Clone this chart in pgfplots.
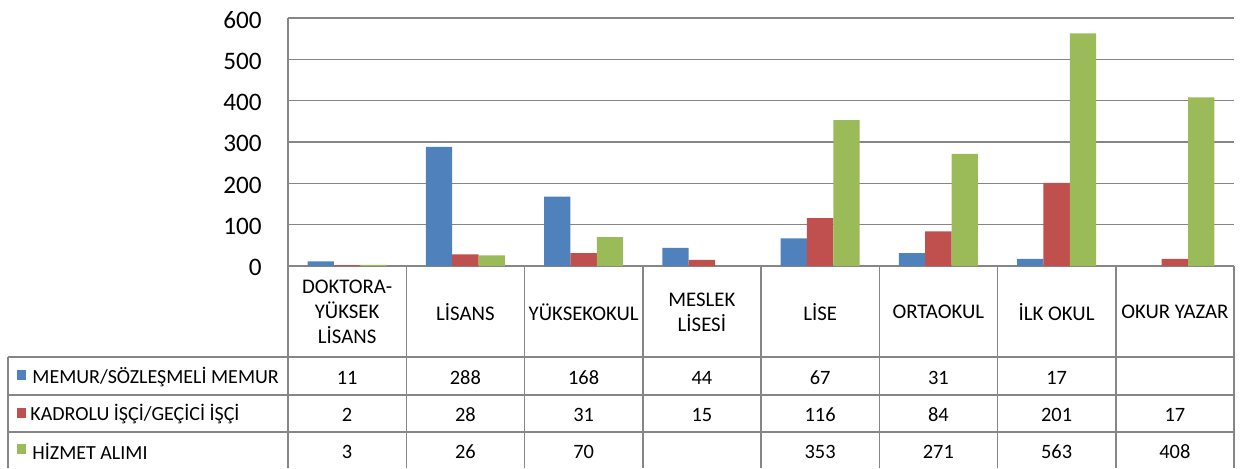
\documentclass[border=0pt]{standalone}
\usepackage{pgfplots}
\pgfplotsset{compat=1.18}
\usepackage{pgfplotstable}
\usepackage{fontspec}
\setmainfont{Carlito}
\definecolor{cblue}{HTML}{4F81BD}
\definecolor{cred}{HTML}{C0504D}
\definecolor{cgreen}{HTML}{9BBB59}
\definecolor{cgrid}{HTML}{868686}

\pgfplotstableread{
x memur kadrolu hizmet
0 11 2 3
1 288 28 26
2 168 31 70
3 44 15 nan
4 67 116 353
5 31 84 271
6 17 201 563
7 nan 17 408
}\datatable

\begin{document}
\begin{tikzpicture}
\useasboundingbox (0,0) rectangle (621pt,234pt);
\begin{axis}[
  at={(144pt,101pt)}, anchor=south west,
  scale only axis, width=473pt, height=124pt,
  xmin=-0.5, xmax=7.5, ymin=0, ymax=600,
  ytick={0,100,...,600}, xtick=\empty,
  ymajorgrids, grid style={cgrid, line width=0.75pt},
  axis x line*=bottom, axis y line*=left,
  axis line style={cgrid, line width=0.75pt},
  major tick length=0pt,
  /pgf/number format/assume math mode=true,
  yticklabel style={font=\fontsize{12.6}{14}\selectfont, inner sep=0pt, xshift=-13pt, yshift=-0.8pt},
  ybar, bar width=0.2225,
  clip=false,
]
\addplot[fill=cblue, draw=none, bar shift=-0.2225] table[x=x,y=memur]{\datatable};
\addplot[fill=cred, draw=none, bar shift=0] table[x=x,y=kadrolu]{\datatable};
\addplot[fill=cgreen, draw=none, bar shift=0.2225] table[x=x,y=hizmet]{\datatable};
\end{axis}
\begin{scope}[shift={(0,234pt)}, x=0.5pt, y=-0.5pt]
  % grid of table
  \foreach \i in {0,...,8} {
    \draw[cgrid, line width=0.75pt] ({288+118.25*\i},266) -- ({288+118.25*\i},468);
  }
  \foreach \yy in {357,395,432} {
    \draw[cgrid, line width=0.75pt] (8,\yy) -- (1234,\yy);
  }
  \draw[cgrid, line width=0.75pt] (8,357) -- (8,468);
  % header labels
  \foreach \lab [count=\i from 0] in {{DOKTORA-\\YÜKSEK\\LİSANS},LİSANS,YÜKSEKOKUL,{MESLEK\\LİSESİ},LİSE,ORTAOKUL,İLK OKUL,OKUR YAZAR} {
    \node[align=center, font=\fontsize{10.4}{12.5}\selectfont, inner sep=0pt] at ({288+118.25*(\i+0.5)},312) {\lab};
  }
  % legend column
  \fill[cblue] (17,370) rectangle (26,380);
  \fill[cred] (17,407.5) rectangle (26,417.5);
  \fill[cgreen] (17,444) rectangle (26,454);
  \node[anchor=west, font=\fontsize{10}{12}\selectfont, inner sep=0pt] at (32,377) {MEMUR/SÖZLEŞMELİ MEMUR};
  \node[anchor=west, font=\fontsize{10}{12}\selectfont, inner sep=0pt] at (30,414.5) {KADROLU İŞÇİ/GEÇİCİ İŞÇİ};
  \node[anchor=west, font=\fontsize{10}{12}\selectfont, inner sep=0pt] at (32,451) {HİZMET ALIMI};
  % values
  \foreach \v [count=\i from 0] in {11,288,168,44,67,31,17,{}} {
    \node[font=\fontsize{10.2}{12}\selectfont, inner sep=0pt] at ({288+118.25*(\i+0.5)},377.5) {\v};
  }
  \foreach \v [count=\i from 0] in {2,28,31,15,116,84,201,17} {
    \node[font=\fontsize{10.2}{12}\selectfont, inner sep=0pt] at ({288+118.25*(\i+0.5)},415) {\v};
  }
  \foreach \v [count=\i from 0] in {3,26,70,{},353,271,563,408} {
    \node[font=\fontsize{10.2}{12}\selectfont, inner sep=0pt] at ({288+118.25*(\i+0.5)},451.5) {\v};
  }
\end{scope}
\end{tikzpicture}
\end{document}
